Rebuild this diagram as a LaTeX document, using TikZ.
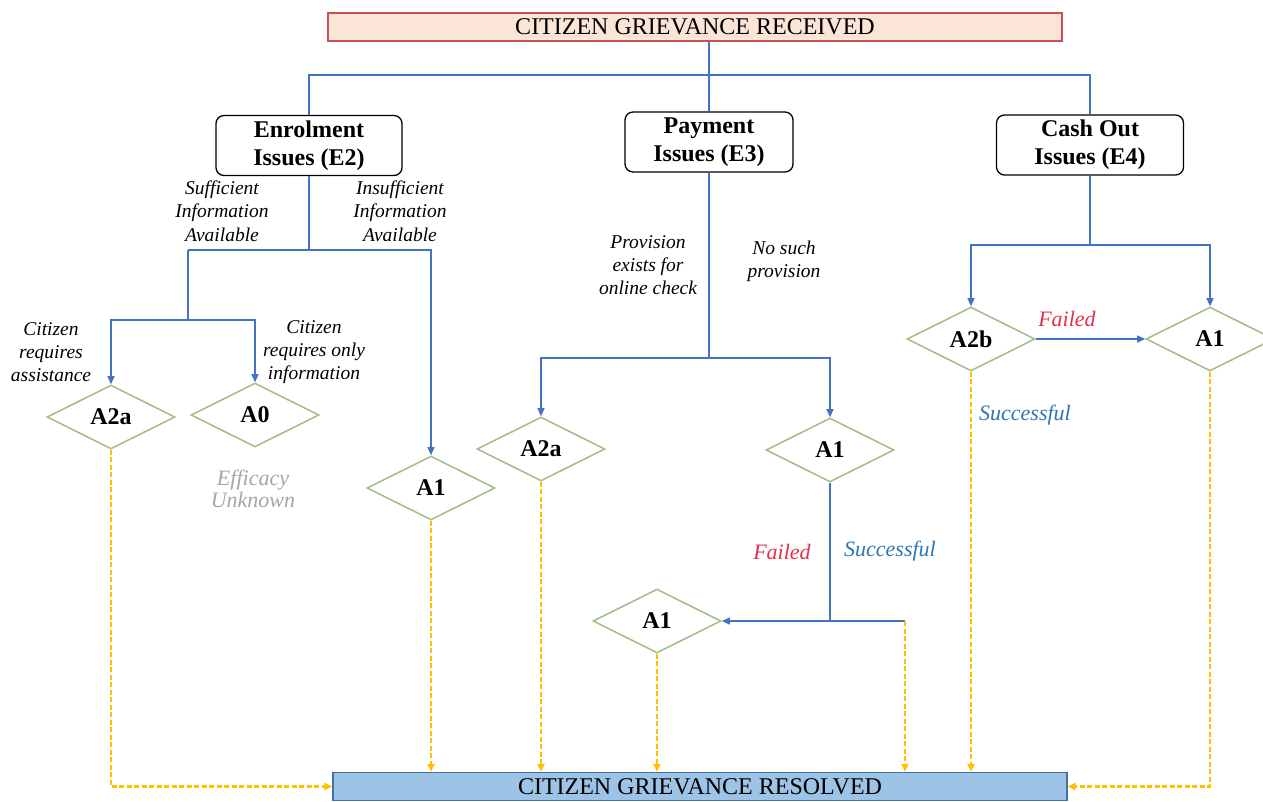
\documentclass[tikz,border=0pt]{standalone}
\usepackage{fontspec}
\setmainfont{Liberation Serif}
\usetikzlibrary{shapes.geometric,arrows.meta}

\definecolor{lineblue}{HTML}{4472C4}
\definecolor{peach}{HTML}{FBE5D6}
\definecolor{boxred}{HTML}{C9505A}
\definecolor{resfill}{HTML}{9DC3E6}
\definecolor{resline}{HTML}{41719C}
\definecolor{leaf}{HTML}{A5C08A}
\definecolor{gold}{HTML}{FFC000}
\definecolor{failred}{HTML}{E0304A}
\definecolor{okblue}{HTML}{2E75B6}
\definecolor{unkgray}{HTML}{A6A6A6}

\begin{document}
\begin{tikzpicture}[
            x=1pt, y=-1pt,
            >={Triangle[length=8pt,width=7pt]},
            banner/.style={
                rectangle,
                line width=1.2pt,
                minimum width=734pt,
                minimum height=28pt,
                inner sep=0pt,
                font=\fontsize{24}{28}\selectfont
            },
            issue/.style={
                rectangle,
                draw=black,
                rounded corners=8pt,
                line width=1.3pt,
                minimum height=60pt,
                inner sep=0pt,
                align=center,
                font=\fontsize{24}{28}\selectfont\bfseries
            },
            action/.style={
                diamond,
                aspect=2,
                draw=leaf,
                fill=white,
                line width=1.6pt,
                minimum width=128pt,
                minimum height=64pt,
                inner sep=0pt,
                font=\fontsize{24}{28}\selectfont\bfseries
            },
            lbl/.style={
                align=center,
                inner sep=0pt,
                font=\fontsize{19.5}{23.3}\selectfont\itshape
            },
            outcome/.style={
                inner sep=0pt,
                font=\fontsize{22}{22}\selectfont\itshape
            },
            flow/.style={draw=lineblue, line width=1.3pt},
            done/.style={draw=gold, line width=2.4pt, dash pattern=on 5pt off 2.5pt}
        ]

        \useasboundingbox (0,0) rectangle (1263,801);
        \clip (0,0) rectangle (1263,801);

        % Start and end
        \node[banner, draw=boxred, fill=peach] (recv) at (695,27) {CITIZEN GRIEVANCE RECEIVED};
        \node[banner, draw=resline, fill=resfill] (res) at (700,786.5) {CITIZEN GRIEVANCE RESOLVED};

        % Issue boxes
        \node[issue, minimum width=186pt] (E2) at (309,145.5) {Enrolment\\Issues (E2)};
        \node[issue, minimum width=168pt] (E3) at (709,142) {Payment\\Issues (E3)};
        \node[issue, minimum width=187pt] (E4) at (1090,145) {Cash Out\\Issues (E4)};

        % Actions
        \node[action] (a2aL) at (111,417) {A2a};
        \node[action] (a0)   at (255,415) {A0};
        \node[action] (a1L)  at (431,488) {A1};
        \node[action] (a2aM) at (541,449) {A2a};
        \node[action] (a1M)  at (830,450) {A1};
        \node[action] (a1B)  at (657,621) {A1};
        \node[action] (a2b)  at (971,339) {A2b};
        \node[action] (a1R)  at (1210,339) {A1};

        % Junctions
        \coordinate (bus) at (709,75);
        \coordinate (e2j) at (309,250);
        \coordinate (e2l) at (188,250);
        \coordinate (e2s) at (188,320);
        \coordinate (e3j) at (709,358);
        \coordinate (e3k) at (830,621);
        \coordinate (e3r) at (905,621);
        \coordinate (e4j) at (1090,245);

        % Branches
        \draw[flow] (recv.south -| bus) -- (E3.north);
        \draw[flow] (E2.north) |- (bus) -| (E4.north);

        \draw[flow] (E2.south) -- (e2j);
        \draw[flow,->] (e2l) -| (a1L.north);
        \draw[flow] (e2l) -- (e2s);
        \draw[flow,->] (e2s) -| (a2aL.north);
        \draw[flow,->] (e2s) -| (a0.north);

        \draw[flow] (E3.south) -- (e3j);
        \draw[flow,->] (e3j) -| (a2aM.north);
        \draw[flow,->] (e3j) -| (a1M.north);
        \draw[flow] (a1M.south) -- (e3k);
        \draw[flow,->] (e3r) -- (a1B.east);

        \draw[flow] (E4.south) -- (e4j);
        \draw[flow,->] (e4j) -| (a2b.north);
        \draw[flow,->] (e4j) -| (a1R.north);
        \draw[flow,->] (a2b.east) -- (a1R.west);

        % Resolution
        \draw[done,->] (a2aL.south) |- (res.west);
        \draw[done,->] (a1L.south) -- (a1L.south |- res.north);
        \draw[done,->] (a2aM.south) -- (a2aM.south |- res.north);
        \draw[done,->] (a1B.south) -- (a1B.south |- res.north);
        \draw[done,->] (e3r) -- (e3r |- res.north);
        \draw[done,->] (a2b.south) -- (a2b.south |- res.north);
        \draw[done,->] (a1R.south) |- (res.east);

        % Labels
        \node[lbl] (suff)   at (222,211) {Sufficient\\Information\\Available};
        \node[lbl] (insuff) at (400,211) {Insufficient\\Information\\Available};
        \node[lbl] (assist) at (51,352)  {Citizen\\requires\\assistance};
        \node[lbl] (info)   at (314,352) {Citizen\\requires only\\information};
        \node[lbl] (prov)   at (648,265) {Provision\\exists for\\online check};
        \node[lbl] (noprov) at (784,261) {No such\\provision};
        \node[outcome, text=unkgray, align=center] (unk) at (253,489) {Efficacy\\Unknown};
        \node[outcome, text=failred] (failM) at (782,552) {Failed};
        \node[outcome, text=okblue]  (okM)   at (890,551) {Successful};
        \node[outcome, text=failred] (failR) at (1067,319) {Failed};
        \node[outcome, text=okblue]  (okR)   at (1025,415) {Successful};

        \end{tikzpicture}
\end{document}
